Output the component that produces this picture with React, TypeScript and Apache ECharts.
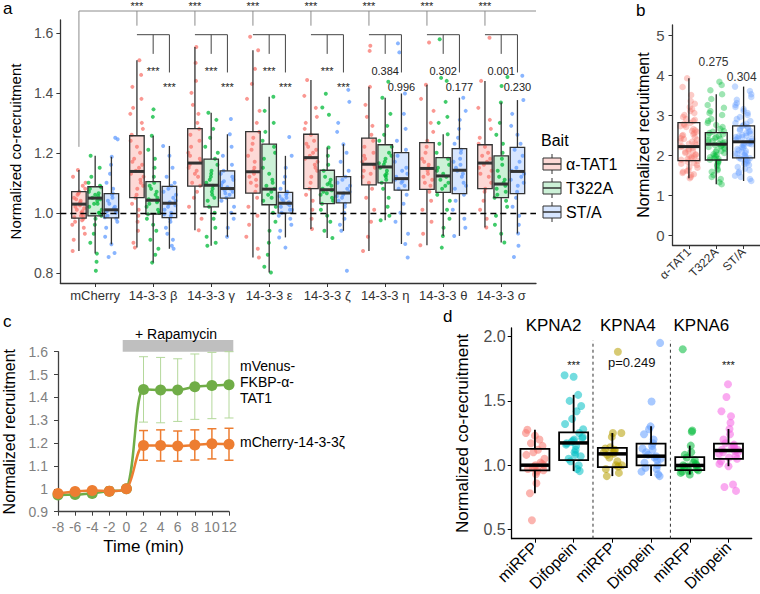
import React, { useEffect, useRef } from "react";
import * as echarts from "echarts";

const FONT = '"Liberation Sans", Arial, Helvetica, sans-serif';

// ---------------- Panel a ----------------
const aCats = ["mCherry", "14-3-3 β", "14-3-3 γ", "14-3-3 ε", "14-3-3 ζ", "14-3-3 η", "14-3-3 θ", "14-3-3 σ"];
const baits = ["α-TAT1", "T322A", "ST/A"];
const BAIT_COLORS = ["#F8766D", "#00BA38", "#619CFF"];
const BAIT_FILLS = ["rgba(248,118,109,0.28)", "rgba(0,186,56,0.2)", "rgba(97,156,255,0.25)"];

// [lower whisker, q1, median, q3, upper whisker]
const aTAT1Box = [
  [0.873, 0.982, 1.029, 1.071, 1.143],
  [0.884, 1.051, 1.138, 1.257, 1.509],
  [0.942, 1.089, 1.166, 1.281, 1.553],
  [0.851, 1.066, 1.137, 1.271, 1.542],
  [0.946, 1.081, 1.184, 1.262, 1.443],
  [0.873, 1.093, 1.162, 1.249, 1.42],
  [0.892, 1.078, 1.148, 1.234, 1.427],
  [0.951, 1.081, 1.166, 1.227, 1.44],
];
const aT322ABox = [
  [0.864, 0.99, 1.049, 1.087, 1.19],
  [0.834, 0.996, 1.042, 1.104, 1.257],
  [0.89, 1.02, 1.092, 1.179, 1.334],
  [0.801, 1.027, 1.079, 1.229, 1.387],
  [0.916, 1.031, 1.077, 1.142, 1.218],
  [0.975, 1.1, 1.153, 1.227, 1.384],
  [0.923, 1.068, 1.123, 1.184, 1.262],
  [0.901, 1.051, 1.096, 1.19, 1.368],
];
const aSTABox = [
  [0.895, 0.983, 1.01, 1.064, 1.187],
  [0.88, 0.984, 1.032, 1.088, 1.223],
  [0.92, 1.049, 1.081, 1.14, 1.262],
  [0.918, 0.999, 1.032, 1.068, 1.19],
  [0.94, 1.033, 1.066, 1.121, 1.229],
  [0.896, 1.076, 1.114, 1.201, 1.398],
  [0.923, 1.064, 1.142, 1.214, 1.384],
  [0.931, 1.064, 1.138, 1.218, 1.376],
];

const aPtsTAT1 = [
  [0.873, 0.91, 0.93, 0.95, 0.96, 0.97, 0.98, 0.985, 0.99, 1.0, 1.005, 1.01, 1.02, 1.025, 1.03, 1.035, 1.04, 1.05, 1.06, 1.065, 1.07, 1.08, 1.09, 1.1, 1.12, 1.143, 0.99, 1.015, 1.045, 0.975],
  [0.884, 0.9, 0.94, 0.97, 0.99, 1.01, 1.03, 1.05, 1.06, 1.08, 1.09, 1.1, 1.12, 1.13, 1.14, 1.15, 1.16, 1.18, 1.2, 1.22, 1.24, 1.26, 1.28, 1.3, 1.33, 1.35, 1.38, 1.42, 1.46, 1.509, 1.11, 1.17],
  [0.942, 0.98, 1.02, 1.05, 1.07, 1.09, 1.1, 1.12, 1.13, 1.15, 1.16, 1.17, 1.18, 1.2, 1.22, 1.24, 1.26, 1.28, 1.3, 1.33, 1.36, 1.4, 1.44, 1.5, 1.553, 1.14, 1.19],
  [0.851, 0.88, 0.92, 0.96, 0.99, 1.02, 1.05, 1.07, 1.09, 1.1, 1.12, 1.13, 1.14, 1.15, 1.17, 1.19, 1.21, 1.23, 1.25, 1.27, 1.3, 1.34, 1.38, 1.43, 1.48, 1.542, 1.587, 1.11],
  [0.946, 0.98, 1.01, 1.04, 1.06, 1.08, 1.1, 1.12, 1.14, 1.16, 1.17, 1.18, 1.19, 1.2, 1.21, 1.22, 1.24, 1.26, 1.28, 1.3, 1.32, 1.35, 1.39, 1.443, 1.15, 1.23],
  [0.873, 0.92, 0.97, 1.01, 1.05, 1.08, 1.1, 1.12, 1.14, 1.15, 1.16, 1.17, 1.18, 1.2, 1.22, 1.24, 1.26, 1.29, 1.32, 1.36, 1.42, 1.54, 1.557, 1.13, 1.19],
  [0.892, 0.93, 0.97, 1.01, 1.04, 1.07, 1.09, 1.1, 1.12, 1.13, 1.14, 1.15, 1.16, 1.18, 1.2, 1.22, 1.24, 1.27, 1.3, 1.34, 1.38, 1.427, 1.568, 1.11, 1.17],
  [0.951, 0.98, 1.01, 1.04, 1.07, 1.08, 1.1, 1.12, 1.14, 1.15, 1.16, 1.17, 1.18, 1.19, 1.2, 1.22, 1.23, 1.25, 1.28, 1.31, 1.35, 1.44, 1.584, 1.13],
];
const aPtsT322A = [
  [0.807, 0.837, 0.864, 0.9, 0.93, 0.96, 0.98, 0.99, 1.0, 1.01, 1.02, 1.03, 1.04, 1.045, 1.05, 1.055, 1.06, 1.07, 1.08, 1.085, 1.09, 1.1, 1.12, 1.15, 1.19, 1.0, 1.03, 1.065],
  [0.834, 0.86, 0.88, 0.91, 0.94, 0.96, 0.98, 0.995, 1.0, 1.01, 1.02, 1.03, 1.04, 1.045, 1.05, 1.06, 1.07, 1.08, 1.09, 1.1, 1.12, 1.15, 1.18, 1.21, 1.257, 1.32, 1.345, 1.0, 1.035],
  [0.89, 0.9, 0.92, 0.95, 0.98, 1.0, 1.02, 1.04, 1.06, 1.07, 1.08, 1.09, 1.1, 1.11, 1.12, 1.14, 1.16, 1.18, 1.2, 1.22, 1.25, 1.28, 1.31, 1.334, 1.05, 1.13],
  [0.801, 0.82, 0.86, 0.9, 0.94, 0.97, 1.0, 1.02, 1.04, 1.06, 1.07, 1.08, 1.09, 1.11, 1.13, 1.15, 1.18, 1.2, 1.22, 1.24, 1.27, 1.3, 1.34, 1.387, 1.05, 1.1],
  [0.916, 0.94, 0.97, 0.99, 1.01, 1.03, 1.04, 1.05, 1.06, 1.07, 1.075, 1.08, 1.09, 1.1, 1.11, 1.12, 1.14, 1.16, 1.19, 1.218, 1.327, 1.351, 1.397, 1.065, 1.095],
  [0.975, 0.99, 1.02, 1.05, 1.08, 1.1, 1.11, 1.12, 1.13, 1.14, 1.15, 1.16, 1.17, 1.18, 1.19, 1.2, 1.22, 1.24, 1.26, 1.29, 1.33, 1.384, 1.437, 1.125, 1.165],
  [0.884, 0.923, 0.95, 0.98, 1.01, 1.04, 1.06, 1.08, 1.09, 1.1, 1.11, 1.12, 1.13, 1.14, 1.15, 1.16, 1.18, 1.2, 1.23, 1.262, 1.3, 1.32, 1.37, 1.44, 1.45, 1.579],
  [0.901, 0.93, 0.96, 0.99, 1.02, 1.04, 1.05, 1.06, 1.07, 1.08, 1.09, 1.1, 1.11, 1.12, 1.14, 1.16, 1.18, 1.2, 1.23, 1.26, 1.3, 1.368, 1.423, 1.453],
];
const aPtsSTA = [
  [0.853, 0.866, 0.895, 0.92, 0.95, 0.97, 0.98, 0.985, 0.99, 1.0, 1.005, 1.01, 1.015, 1.02, 1.03, 1.04, 1.05, 1.06, 1.065, 1.08, 1.1, 1.13, 1.16, 1.187, 1.245, 1.25],
  [0.88, 0.89, 0.91, 0.93, 0.95, 0.97, 0.98, 0.99, 1.0, 1.01, 1.02, 1.03, 1.035, 1.04, 1.05, 1.06, 1.07, 1.08, 1.09, 1.1, 1.12, 1.15, 1.19, 1.223, 0.995, 1.025],
  [0.92, 0.95, 0.98, 1.0, 1.02, 1.04, 1.05, 1.06, 1.07, 1.075, 1.08, 1.085, 1.09, 1.1, 1.11, 1.12, 1.13, 1.14, 1.16, 1.19, 1.22, 1.262, 1.313, 1.065, 1.105],
  [0.884, 0.918, 0.94, 0.96, 0.98, 0.99, 1.0, 1.01, 1.02, 1.025, 1.03, 1.035, 1.04, 1.045, 1.05, 1.06, 1.065, 1.07, 1.08, 1.1, 1.12, 1.15, 1.19, 1.253, 1.01, 1.055],
  [0.807, 0.94, 0.96, 0.98, 1.0, 1.02, 1.03, 1.04, 1.05, 1.06, 1.065, 1.07, 1.08, 1.09, 1.1, 1.11, 1.12, 1.14, 1.17, 1.2, 1.229, 1.27, 1.3, 1.37, 1.41, 1.055],
  [0.851, 0.896, 0.93, 0.97, 1.0, 1.03, 1.06, 1.08, 1.09, 1.1, 1.11, 1.12, 1.13, 1.15, 1.17, 1.19, 1.21, 1.24, 1.28, 1.33, 1.398, 1.535, 1.565, 1.105, 1.14],
  [0.923, 0.95, 0.98, 1.01, 1.04, 1.06, 1.08, 1.1, 1.12, 1.13, 1.14, 1.15, 1.16, 1.18, 1.2, 1.21, 1.23, 1.25, 1.28, 1.31, 1.34, 1.384, 1.09, 1.17],
  [0.853, 0.89, 0.931, 0.96, 0.99, 1.02, 1.05, 1.07, 1.09, 1.1, 1.12, 1.13, 1.14, 1.15, 1.17, 1.19, 1.21, 1.23, 1.26, 1.29, 1.33, 1.376, 1.457, 1.11],
];
const aTopLabels = ["***", "***", "***", "***", "***", "***", "***"];
const aGreenLabels = ["***", "***", "***", "***", "0.384", "0.302", "0.001"];
const aBlueLabels = ["***", "***", "***", "***", "0.996", "0.177", "0.230"];

// ---------------- Panel b ----------------
const bCats = ["α-TAT1", "T322A", "ST/A"];
const bBox = [
  [1.42, 1.86, 2.21, 2.81, 3.92],
  [1.27, 1.875, 2.27, 2.56, 3.52],
  [1.35, 1.93, 2.33, 2.73, 3.71],
];
const bPts = [
  [1.42, 1.45, 1.5, 1.55, 1.6, 1.62, 1.7, 1.75, 1.8, 1.85, 1.88, 1.9, 1.95, 2.0, 2.05, 2.1, 2.15, 2.2, 2.22, 2.25, 2.3, 2.35, 2.4, 2.45, 2.5, 2.55, 2.6, 2.65, 2.7, 2.75, 2.8, 2.85, 2.9, 3.0, 3.1, 3.2, 3.35, 3.5, 3.7, 3.92, 2.12, 1.98, 2.38,
    1.52, 1.68, 1.78, 1.83, 1.92, 2.02, 2.08, 2.18, 2.28, 2.42, 2.48, 2.58, 2.62, 2.72, 2.78, 2.88, 2.95, 3.05, 3.15, 3.28, 1.58, 1.96, 2.33, 2.52],
  [1.27, 1.32, 1.4, 1.5, 1.58, 1.65, 1.72, 1.8, 1.85, 1.88, 1.92, 1.96, 2.0, 2.05, 2.1, 2.15, 2.2, 2.25, 2.28, 2.3, 2.35, 2.4, 2.45, 2.5, 2.55, 2.6, 2.7, 2.8, 2.9, 3.0, 3.1, 3.25, 3.4, 3.52, 3.62, 3.75, 3.83, 2.22, 2.02,
    1.45, 1.62, 1.76, 1.83, 1.9, 1.94, 1.98, 2.08, 2.12, 2.18, 2.24, 2.32, 2.38, 2.42, 2.48, 2.52, 2.58, 2.65, 2.75, 2.85, 3.05, 3.18, 2.26, 2.34],
  [1.35, 1.4, 1.48, 1.55, 1.62, 1.7, 1.75, 1.8, 1.85, 1.9, 1.93, 1.97, 2.0, 2.05, 2.1, 2.15, 2.2, 2.25, 2.3, 2.33, 2.36, 2.4, 2.45, 2.5, 2.55, 2.6, 2.65, 2.7, 2.75, 2.8, 2.9, 3.0, 3.1, 3.2, 3.3, 3.45, 3.6, 3.71, 2.12, 2.28, 2.42, 2.58, 1.88, 2.68,
    1.45, 1.58, 1.66, 1.78, 1.83, 1.95, 2.02, 2.08, 2.18, 2.22, 2.27, 2.31, 2.35, 2.38, 2.44, 2.48, 2.53, 2.62, 2.72, 2.78, 2.85, 2.95, 3.05, 3.15, 3.25, 3.38, 3.52, 1.92, 2.03, 2.47],
];
const bPLabels = ["0.275", "0.304"];

// ---------------- Panel c ----------------
const cTime = [-8, -6, -4, -2, 0, 2, 4, 6, 8, 10, 12];
const cVenus = [0.973, 0.975, 0.98, 0.99, 1.0, 1.435, 1.432, 1.432, 1.447, 1.452, 1.455];
const cVenusErr = [0.004, 0.004, 0.004, 0.004, 0.004, 0.143, 0.143, 0.137, 0.143, 0.145, 0.145];
const cCherry = [0.98, 0.988, 0.993, 0.99, 1.0, 1.19, 1.19, 1.187, 1.192, 1.197, 1.195];
const cCherryErr = [0.004, 0.004, 0.004, 0.004, 0.004, 0.065, 0.068, 0.066, 0.066, 0.066, 0.07];

// ---------------- Panel d ----------------
const dCats = ["miRFP", "Difopein", "miRFP", "Difopein", "miRFP", "Difopein"];
const dColors = ["#F8766D", "#00BFC4", "#B79F00", "#619CFF", "#00BA38", "#F564E3"];
const dTitles = ["KPNA2", "KPNA4", "KPNA6"];
const dBox = [
  [0.781, 0.959, 1.0, 1.127, 1.276],
  [0.954, 1.039, 1.173, 1.255, 1.547],
  [0.915, 0.985, 1.088, 1.134, 1.25],
  [0.915, 0.998, 1.07, 1.168, 1.302],
  [0.928, 0.961, 0.998, 1.062, 1.152],
  [0.992, 1.049, 1.114, 1.168, 1.281],
];
const dPts = [
  [0.572, 0.781, 0.86, 0.93, 0.95, 0.96, 0.97, 0.98, 0.99, 1.0, 1.0, 1.02, 1.05, 1.08, 1.1, 1.12, 1.15, 1.17, 1.2, 1.23, 1.25, 1.276, 0.96, 1.01],
  [0.954, 0.97, 1.0, 1.03, 1.05, 1.08, 1.1, 1.12, 1.15, 1.17, 1.18, 1.19, 1.2, 1.22, 1.25, 1.28, 1.32, 1.36, 1.42, 1.46, 1.5, 1.547, 1.688, 1.7, 1.16, 1.21, 1.07],
  [0.915, 0.94, 0.97, 0.99, 1.0, 1.03, 1.06, 1.08, 1.09, 1.1, 1.11, 1.12, 1.13, 1.14, 1.22, 1.25, 1.25, 1.882, 1.0, 1.1],
  [0.915, 0.93, 0.95, 0.98, 1.0, 1.02, 1.04, 1.06, 1.07, 1.08, 1.1, 1.12, 1.15, 1.17, 1.2, 1.24, 1.28, 1.302, 1.495, 1.951, 0.97, 1.05, 1.13],
  [0.928, 0.94, 0.95, 0.96, 0.97, 0.98, 0.99, 1.0, 1.0, 1.01, 1.02, 1.04, 1.06, 1.08, 1.1, 1.152, 1.26, 1.27, 1.902, 0.99, 0.955],
  [0.8, 0.83, 0.85, 0.992, 1.01, 1.03, 1.05, 1.07, 1.09, 1.1, 1.11, 1.12, 1.13, 1.14, 1.15, 1.17, 1.2, 1.24, 1.281, 1.33, 1.38, 1.42, 1.53, 1.63, 1.06, 1.12, 1.16, 1.1],
];
const dAnnot = ["***", "p=0.249", "***"];

// fixed horizontal jitter pattern (layout only)
const JIT = [-0.9, 0.35, -0.2, 0.75, -0.55, 0.1, 0.95, -0.75, 0.5, -0.05, -0.4, 0.65, 0.2, -0.85, 0.85, -0.3, 0.05, 0.45, -0.65, 0.25, -0.15, 0.7, -0.5, 0.9, 0.0, 0.6, -0.7, 0.3, -0.95, 0.15, 0.55];
function jitter(vals: number[], x: number, spread: number, seed: number) {
  return vals.map((v, i) => [x + JIT[(i * 7 + Math.floor(i / JIT.length) * 3 + seed * 5) % JIT.length] * spread, v]);
}

function boxRenderer(width: number, mode: "fill" | "line", fills: string[], stroke: string, lw: number, medLw: number) {
  return (params: any, api: any) => {
    const x = api.value(0);
    const pLo = api.coord([x, api.value(1)]);
    const pQ1 = api.coord([x, api.value(2)]);
    const pMd = api.coord([x, api.value(3)]);
    const pQ3 = api.coord([x, api.value(4)]);
    const pHi = api.coord([x, api.value(5)]);
    const w = api.size([width, 0])[0];
    const cx = pMd[0];
    if (mode === "fill") {
      return {
        type: "rect",
        shape: { x: cx - w / 2, y: pQ3[1], width: w, height: pQ1[1] - pQ3[1] },
        style: { fill: fills[api.value(6)] },
      };
    }
    const st = { stroke, lineWidth: lw };
    return {
      type: "group",
      children: [
        { type: "line", shape: { x1: cx, y1: pHi[1], x2: cx, y2: pQ3[1] }, style: st },
        { type: "line", shape: { x1: cx, y1: pQ1[1], x2: cx, y2: pLo[1] }, style: st },
        { type: "rect", shape: { x: cx - w / 2, y: pQ3[1], width: w, height: pQ1[1] - pQ3[1] }, style: { fill: "none", stroke, lineWidth: lw } },
        { type: "line", shape: { x1: cx - w / 2, y1: pMd[1], x2: cx + w / 2, y2: pMd[1] }, style: { stroke, lineWidth: medLw } },
      ],
    };
  };
}

function segRenderer(colors: string[], lw: number, dash?: number[]) {
  return (params: any, api: any) => {
    const a = api.coord([api.value(0), api.value(1)]);
    const b = api.coord([api.value(2), api.value(3)]);
    return {
      type: "line",
      shape: { x1: a[0], y1: a[1], x2: b[0], y2: b[1] },
      style: { stroke: colors[api.value(4)], lineWidth: lw, lineDash: dash },
    };
  };
}

function textRenderer(texts: string[], fontSize: number, color: string) {
  return (params: any, api: any) => {
    const p = api.coord([api.value(0), api.value(1)]);
    return {
      type: "text",
      x: p[0],
      y: p[1],
      style: { text: texts[params.dataIndex], fontSize, fontFamily: FONT, fill: color, align: "center", verticalAlign: "middle" },
    };
  };
}

function errRenderer(color: string, lw: number, cap: number) {
  return (params: any, api: any) => {
    const lo = api.coord([api.value(0), api.value(1)]);
    const hi = api.coord([api.value(0), api.value(2)]);
    const st = { stroke: color, lineWidth: lw };
    return {
      type: "group",
      children: [
        { type: "line", shape: { x1: lo[0], y1: lo[1], x2: hi[0], y2: hi[1] }, style: st },
        { type: "line", shape: { x1: hi[0] - cap, y1: hi[1], x2: hi[0] + cap, y2: hi[1] }, style: st },
        { type: "line", shape: { x1: lo[0] - cap, y1: lo[1], x2: lo[0] + cap, y2: lo[1] }, style: st },
      ],
    };
  };
}

function buildOption(): any {
  const off = [-0.28, 0, 0.28];
  const aBoxData: number[][] = [];
  [aTAT1Box, aT322ABox, aSTABox].forEach((arr, b) => arr.forEach((s, g) => aBoxData.push([g + 1 + off[b], ...s, b])));

  const aScatter: any[] = [aPtsTAT1, aPtsT322A, aPtsSTA].map((groups, b) => ({
    type: "scatter",
    name: baits[b],
    xAxisIndex: 0,
    yAxisIndex: 0,
    z: 2,
    silent: true,
    symbolSize: 4,
    itemStyle: { color: BAIT_COLORS[b], opacity: 0.75 },
    data: groups.flatMap((vals, g) => jitter(vals, g + 1 + off[b], 0.12, g * 3 + b)),
  }));
  aScatter[0].markLine = {
    silent: true,
    symbol: "none",
    label: { show: false },
    lineStyle: { color: "#000", type: [6, 4], width: 1.3 },
    data: [{ yAxis: 1 }],
  };

  // brackets (annotation layout in data units)
  const TOP_Y = 1.673, TOP_DROP = 1.624, MCH_DROP = 1.22, PAIR_Y = 1.594, G_END = 1.53, B_END = 1.468;
  const aSeg: number[][] = [[1 + off[0], TOP_Y, 8.6, TOP_Y, 0], [1 + off[0], TOP_Y, 1 + off[0], MCH_DROP, 0]];
  const aTxt: number[][] = [];
  const aTxtLabels: string[] = [];
  for (let g = 2; g <= 8; g++) {
    aSeg.push([g + off[0], TOP_Y, g + off[0], TOP_DROP, 0]);
    aSeg.push([g + off[0], PAIR_Y, g + off[2], PAIR_Y, 1]);
    aSeg.push([g, PAIR_Y, g, G_END, 1]);
    aSeg.push([g + off[2], PAIR_Y, g + off[2], B_END, 1]);
    aTxt.push([g + off[0], 1.69]);
    aTxtLabels.push(aTopLabels[g - 2]);
    aTxt.push([g, 1.472]);
    aTxtLabels.push(aGreenLabels[g - 2]);
    aTxt.push([g + off[2], 1.42]);
    aTxtLabels.push(aBlueLabels[g - 2]);
  }

  // panel b
  const bBoxData = bBox.map((s, i) => [i + 1, ...s, i]);
  const bScatter = bPts.map((vals, i) => ({
    type: "scatter",
    xAxisIndex: 1,
    yAxisIndex: 1,
    z: 2,
    silent: true,
    symbolSize: 6.5,
    itemStyle: { color: BAIT_COLORS[i], opacity: 0.38 },
    data: jitter(vals, i + 1, 0.33, i * 4 + 1),
  }));

  // panel d
  const dBoxData = dBox.map((s, i) => [i + 1, ...s, i]);
  const dScatter = {
    type: "scatter",
    xAxisIndex: 3,
    yAxisIndex: 3,
    z: 2,
    silent: true,
    symbolSize: 8,
    data: dPts.flatMap((vals, i) =>
      jitter(vals, i + 1, 0.26, i * 2 + 3).map((v) => ({ value: v, itemStyle: { color: dColors[i], opacity: 0.55 } }))
    ),
  };

  const axisCommon = (color: string) => ({
    axisLine: { onZero: false, lineStyle: { color, width: 1.3 } },
    splitLine: { show: false },
  });

  return {
    animation: false,
    backgroundColor: "#fff",
    textStyle: { fontFamily: FONT },
    grid: [
      { left: 47.5, top: 20, width: 488.5, height: 263 },
      { left: 672.5, top: 25, width: 88, height: 220 },
      { left: 56, top: 351.7, width: 173, height: 160 },
      { left: 511.7, top: 328, width: 240, height: 211.3 },
    ],
    xAxis: [
      {
        gridIndex: 0, type: "value", min: 0.4, max: 8.6, ...axisCommon("#333"),
        axisTick: { customValues: [1, 2, 3, 4, 5, 6, 7, 8], length: 4, lineStyle: { color: "#333" } },
        axisLabel: { customValues: [1, 2, 3, 4, 5, 6, 7, 8], formatter: (v: number) => aCats[Math.round(v) - 1], color: "#333", fontSize: 13, margin: 6, fontFamily: FONT },
      },
      {
        gridIndex: 1, type: "value", min: 0.4, max: 3.6, ...axisCommon("#333"),
        axisTick: { customValues: [1, 2, 3], length: 4, lineStyle: { color: "#333" } },
        axisLabel: { customValues: [1, 2, 3], formatter: (v: number) => bCats[Math.round(v) - 1], rotate: 45, color: "#333", fontSize: 12, margin: 5, fontFamily: FONT },
      },
      {
        gridIndex: 2, type: "value", min: -8, max: 12, interval: 2, ...axisCommon("#404040"),
        axisTick: { length: 4, lineStyle: { color: "#404040" } },
        axisLabel: { color: "#7F7F7F", fontSize: 14, margin: 8, fontFamily: FONT },
        name: "Time (min)", nameLocation: "middle", nameGap: 26,
        nameTextStyle: { fontSize: 17, color: "#000", fontFamily: FONT },
      },
      {
        gridIndex: 3, type: "value", min: 0.4, max: 6.6, ...axisCommon("#000"),
        axisTick: { customValues: [1, 2, 3, 4, 5, 6], length: 4, lineStyle: { color: "#000" } },
        axisLabel: { customValues: [1, 2, 3, 4, 5, 6], formatter: (v: number) => dCats[Math.round(v) - 1], rotate: 45, color: "#000", fontSize: 16, margin: 6, fontFamily: FONT },
      },
    ],
    yAxis: [
      {
        gridIndex: 0, type: "value", min: 0.766, max: 1.643, ...axisCommon("#333"),
        axisTick: { customValues: [0.8, 1.0, 1.2, 1.4, 1.6], length: 4, lineStyle: { color: "#333" } },
        axisLabel: { customValues: [0.8, 1.0, 1.2, 1.4, 1.6], formatter: (v: number) => v.toFixed(1), color: "#4D4D4D", fontSize: 14, margin: 7, fontFamily: FONT },
        name: "Normalized co-recruitment", nameLocation: "middle", nameGap: 33,
        nameTextStyle: { fontSize: 15, color: "#000", fontFamily: FONT },
      },
      {
        gridIndex: 1, type: "value", min: -0.25, max: 5.25, ...axisCommon("#333"),
        axisTick: { customValues: [0, 1, 2, 3, 4, 5], length: 4, lineStyle: { color: "#333" } },
        axisLabel: { customValues: [0, 1, 2, 3, 4, 5], formatter: (v: number) => String(Math.round(v)), color: "#4D4D4D", fontSize: 15, margin: 8, fontFamily: FONT },
        name: "Normalized recruitment", nameLocation: "middle", nameGap: 21,
        nameTextStyle: { fontSize: 16, color: "#000", fontFamily: FONT },
      },
      {
        gridIndex: 2, type: "value", min: 0.9, max: 1.6, interval: 0.1, ...axisCommon("#404040"),
        axisTick: { length: 4, lineStyle: { color: "#404040" } },
        axisLabel: { color: "#7F7F7F", fontSize: 14, margin: 10, fontFamily: FONT },
        name: "Normalized recruitment", nameLocation: "middle", nameGap: 41,
        nameTextStyle: { fontSize: 16, color: "#000", fontFamily: FONT },
      },
      {
        gridIndex: 3, type: "value", min: 0.428, max: 2.067, ...axisCommon("#000"),
        axisTick: { customValues: [0.5, 1.0, 1.5, 2.0], length: 4, lineStyle: { color: "#000" } },
        axisLabel: { customValues: [0.5, 1.0, 1.5, 2.0], formatter: (v: number) => v.toFixed(1), color: "#4D4D4D", fontSize: 16, margin: 6, fontFamily: FONT },
        name: "Normalized co-recruitment", nameLocation: "middle", nameGap: 41,
        nameTextStyle: { fontSize: 17, color: "#000", fontFamily: FONT },
      },
    ],
    series: [
      // panel a
      { type: "custom", xAxisIndex: 0, yAxisIndex: 0, z: 1, silent: true, clip: false, data: aBoxData, renderItem: boxRenderer(0.25, "fill", BAIT_FILLS, "#333", 1.2, 3) },
      ...aScatter,
      { type: "custom", xAxisIndex: 0, yAxisIndex: 0, z: 3, silent: true, clip: false, data: aBoxData, renderItem: boxRenderer(0.25, "line", BAIT_FILLS, "#333", 1.3, 3) },
      { type: "custom", xAxisIndex: 0, yAxisIndex: 0, z: 3, silent: true, clip: false, data: aSeg, renderItem: segRenderer(["#8C8C8C", "#444"], 1) },
      { type: "custom", xAxisIndex: 0, yAxisIndex: 0, z: 3, silent: true, clip: false, data: aTxt, renderItem: textRenderer(aTxtLabels, 11, "#222") },
      // panel b
      ...bScatter,
      { type: "custom", xAxisIndex: 1, yAxisIndex: 1, z: 3, silent: true, clip: false, data: bBoxData, renderItem: boxRenderer(0.8, "line", BAIT_FILLS, "#222", 1.3, 3) },
      { type: "custom", xAxisIndex: 1, yAxisIndex: 1, z: 3, silent: true, clip: false, data: [[1.9, 4.32], [2.93, 3.94]], renderItem: textRenderer(bPLabels, 12, "#333") },
      // panel c
      { type: "custom", xAxisIndex: 2, yAxisIndex: 2, z: 1, silent: true, clip: false, data: cTime.map((t, i) => [t, cVenus[i] - cVenusErr[i], cVenus[i] + cVenusErr[i]]), renderItem: errRenderer("#B4D89B", 1, 4.5) },
      { type: "custom", xAxisIndex: 2, yAxisIndex: 2, z: 1, silent: true, clip: false, data: cTime.map((t, i) => [t, cCherry[i] - cCherryErr[i], cCherry[i] + cCherryErr[i]]), renderItem: errRenderer("#ED7D31", 1.5, 4.5) },
      {
        type: "line", name: "mVenus-FKBP-α-TAT1", xAxisIndex: 2, yAxisIndex: 2, z: 3, silent: true, smooth: 0.3,
        symbol: "circle", symbolSize: 11, lineStyle: { color: "#70AD47", width: 2.5 }, itemStyle: { color: "#70AD47" },
        data: cTime.map((t, i) => [t, cVenus[i]]),
      },
      {
        type: "line", name: "mCherry-14-3-3ζ", xAxisIndex: 2, yAxisIndex: 2, z: 4, silent: true, smooth: 0.3,
        symbol: "circle", symbolSize: 11, lineStyle: { color: "#ED7D31", width: 2.5 }, itemStyle: { color: "#ED7D31" },
        data: cTime.map((t, i) => [t, cCherry[i]]),
      },
      // panel d
      dScatter,
      { type: "custom", xAxisIndex: 3, yAxisIndex: 3, z: 3, silent: true, clip: false, data: dBoxData, renderItem: boxRenderer(0.75, "line", dColors, "#000", 1.8, 3.5) },
      { type: "custom", xAxisIndex: 3, yAxisIndex: 3, z: 1, silent: true, clip: false, data: [[2.5, 0.428, 2.5, 1.97, 0], [4.5, 0.428, 4.5, 1.97, 0]], renderItem: segRenderer(["#333"], 1, [3, 3]) },
      { type: "custom", xAxisIndex: 3, yAxisIndex: 3, z: 3, silent: true, clip: false, data: [[1.48, 2.083], [3.4, 2.083], [5.3, 2.09]], renderItem: textRenderer(dTitles, 17, "#000") },
      { type: "custom", xAxisIndex: 3, yAxisIndex: 3, z: 3, silent: true, clip: false, data: [[2, 1.78], [3.5, 1.796], [6, 1.78]], renderItem: (p: any, api: any) => textRenderer(dAnnot, p.dataIndex === 1 ? 13 : 11, "#111")(p, api) },
    ],
    graphic: [
      { type: "text", left: 3, top: 0, style: { text: "a", fontSize: 17, fontFamily: FONT, fill: "#000" } },
      { type: "text", left: 636, top: 2, style: { text: "b", fontSize: 17, fontFamily: FONT, fill: "#000" } },
      { type: "text", left: 3, top: 313, style: { text: "c", fontSize: 17, fontFamily: FONT, fill: "#000" } },
      { type: "text", left: 443, top: 308, style: { text: "d", fontSize: 17, fontFamily: FONT, fill: "#000" } },
      // legend panel a
      { type: "text", x: 541, y: 140, style: { text: "Bait", fontSize: 16, fontFamily: FONT, fill: "#000", verticalAlign: "middle" } },
      ...[164, 188, 212].flatMap((y, i) => [
        { type: "line", shape: { x1: 552, y1: y - 10, x2: 552, y2: y + 10 }, style: { stroke: "#333", lineWidth: 1 } },
        { type: "rect", shape: { x: 543, y: y - 6, width: 18, height: 12 }, style: { fill: "#fff", stroke: "#fff", lineWidth: 0 } },
        { type: "rect", shape: { x: 543, y: y - 6, width: 18, height: 12 }, style: { fill: BAIT_FILLS[i], stroke: "#333", lineWidth: 1 } },
        { type: "line", shape: { x1: 543, y1: y, x2: 561, y2: y }, style: { stroke: "#333", lineWidth: 1.5 } },
        { type: "text", x: 566, y, style: { text: baits[i], fontSize: 16, fontFamily: FONT, fill: "#000", verticalAlign: "middle" } },
      ]),
      // panel c annotations
      { type: "rect", shape: { x: 122.7, y: 340, width: 110.6, height: 11.7 }, style: { fill: "#BFBFBF" } },
      { type: "text", x: 176, y: 334, style: { text: "+ Rapamycin", fontSize: 14, fontFamily: FONT, fill: "#000", align: "center", verticalAlign: "middle" } },
      { type: "text", x: 240, y: 358, style: { text: "mVenus-\nFKBP-α-\nTAT1", fontSize: 14, lineHeight: 16, fontFamily: FONT, fill: "#000" } },
      { type: "text", x: 240, y: 442, style: { text: "mCherry-14-3-3ζ", fontSize: 14, fontFamily: FONT, fill: "#000", verticalAlign: "middle" } },
    ],
  };
}

export default function App() {
  const ref = useRef<HTMLDivElement>(null);
  useEffect(() => {
    if (!ref.current) return;
    const chart = echarts.init(ref.current, null, { renderer: "svg" });
    chart.setOption(buildOption());
    return () => chart.dispose();
  }, []);
  return <div ref={ref} style={{ position: "fixed", left: 0, top: 0, width: 760, height: 594, background: "#fff" }} />;
}
